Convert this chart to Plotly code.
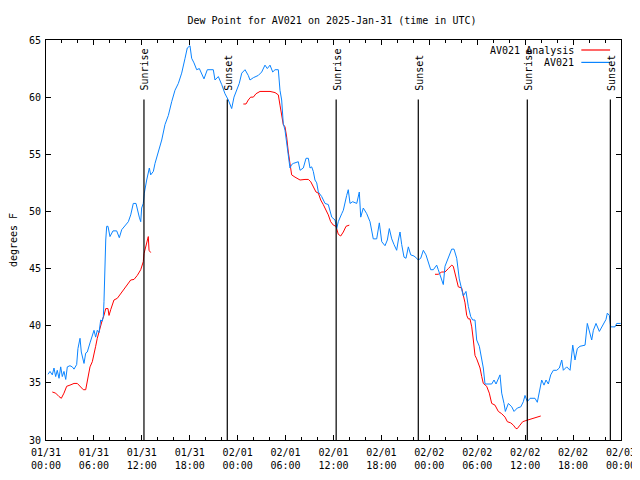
import pandas as pd
import plotly.graph_objects as go

BASE = pd.Timestamp("2025-01-31 00:00")

# AV021 observations: hours since 01/31 00:00 UTC, dew point (F)
obs_hours = [0.25, 0.5, 0.79, 1.0, 1.21, 1.41, 1.63, 1.84, 2.04, 2.25, 2.47, 2.67, 3.0, 3.29, 3.51, 3.84,
             4.0, 4.26, 4.42, 4.76, 4.97, 5.17, 5.51, 5.8, 6.01, 6.22, 6.42, 6.64, 6.85, 7.05, 7.18, 7.26,
             7.35, 7.48, 7.6, 7.76, 8.01, 8.39, 8.85, 9.18, 9.48, 9.89, 10.31, 10.61, 10.93, 11.27, 11.43,
             11.68, 11.86, 11.98, 12.18, 12.31, 12.61, 12.94, 13.11, 13.44, 13.65, 14.06, 14.49, 14.9,
             15.32, 15.74, 16.15, 16.57, 16.99, 17.41, 17.69, 18.03, 18.24, 18.53, 18.87, 19.2, 19.5,
             19.78, 20.2, 20.95, 21.16, 21.58, 22.0, 22.41, 22.83, 23.25, 23.54, 23.88, 24.2, 24.51,
             24.92, 25.33, 25.54, 25.96, 26.58, 27.01, 27.42, 27.71, 28.05, 28.39, 28.68, 29.09, 29.3,
             29.51, 29.71, 29.93, 30.14, 30.34, 30.55, 30.76, 30.97, 31.59, 31.81, 32.22, 32.56, 32.85,
             33.06, 33.27, 33.47, 33.68, 33.9, 34.1, 34.52, 34.94, 35.35, 35.78, 36.19, 36.4, 36.6,
             37.03, 37.23, 37.65, 37.85, 38.07, 38.4, 38.91, 39.23, 39.41, 39.73, 40.16, 40.57, 40.98,
             41.41, 41.74, 42.04, 42.45, 42.74, 42.99, 43.29, 43.58, 43.91, 44.12, 44.33, 44.54, 44.83,
             45.08, 45.37, 45.67, 46.08, 46.42, 46.62, 46.92, 47.25, 47.58, 47.87, 48.17, 48.5, 48.92,
             49.12, 49.34, 49.75, 49.96, 50.38, 50.8, 51.09, 51.43, 51.75, 52.05, 52.25, 52.59, 52.88,
             53.18, 53.43, 53.72, 53.93, 54.26, 54.56, 54.76, 54.97, 55.81, 56.1, 56.35, 56.85, 57.06,
             57.35, 57.52, 57.9, 58.32, 58.61, 59.02, 59.45, 59.77, 59.98, 60.27, 60.61, 61.23, 61.52,
             61.77, 62.07, 62.36, 62.61, 62.9, 63.2, 63.53, 63.95, 64.28, 64.58, 64.78, 65.2, 65.62,
             65.96, 66.24, 66.53, 66.87, 67.5, 67.78, 68.03, 68.33, 68.54, 68.87, 69.29, 69.59, 69.87,
             70.12, 70.29, 70.54, 70.71, 71.25, 71.46, 71.96]
obs_values = [35.75, 36.0, 35.7, 36.3, 35.55, 36.1, 35.4, 36.4, 35.55, 36.0, 35.3, 36.4, 36.5, 36.4, 36.2, 36.6,
              38.0, 38.9, 37.7, 36.7, 37.6, 37.7, 38.5, 39.2, 39.6, 39.0, 39.6, 39.4, 40.5, 40.4, 40.8, 42.1,
              45.5, 47.5, 48.7, 48.7, 47.8, 48.3, 48.3, 47.7, 48.4, 48.8, 49.1, 49.7, 50.7, 50.7, 50.1,
              49.5, 49.1, 50.3, 50.7, 51.6, 52.75, 53.8, 53.2, 53.5, 54.2, 55.1, 56.25, 57.6,
              58.4, 59.6, 60.6, 61.2, 62.1, 63.4, 64.3, 64.5, 63.4, 63.0, 62.4, 62.5, 62.1,
              61.6, 62.4, 62.4, 61.5, 61.8, 61.1, 60.3, 59.75, 59.0, 60.0, 60.6, 61.2, 62.1,
              62.4, 61.9, 61.5, 61.7, 61.9, 62.2, 62.8, 62.5, 62.8, 62.2, 62.4, 62.4, 60.6,
              59.75, 57.7, 57.1, 56.0, 54.9, 53.8, 54.1, 54.2, 54.35, 53.6, 53.8, 54.65, 54.65,
              53.8, 53.9, 53.5, 52.75, 52.5, 51.7, 51.3, 50.7, 50.6, 49.5, 49.25, 48.5, 49.1,
              49.8, 50.1, 51.4, 51.9, 50.7, 50.85, 50.7, 51.7, 49.5, 50.3, 49.8, 49.1, 47.6,
              47.6, 49.0, 47.35, 47.0, 47.5, 48.5, 47.6, 47.1, 46.6, 47.5, 48.2, 47.1, 46.0,
              45.9, 46.9, 46.2, 46.1, 45.9, 45.75, 45.9, 46.6, 46.2, 45.6, 44.9, 44.9, 45.3,
              44.9, 44.4, 43.6, 45.2, 45.9, 46.7, 46.7, 45.9, 44.1, 43.3, 42.6, 43.0, 41.7,
              40.8, 40.5, 40.5, 38.75, 38.2, 37.0, 36.3, 34.9, 34.9, 35.25, 34.9, 35.7, 34.1,
              33.2, 32.5, 33.2, 32.9, 32.5, 32.8, 32.9, 33.35, 33.9, 33.35, 33.65, 33.65, 33.3,
              34.1, 35.25, 34.8, 35.25, 34.9, 35.7, 36.1, 36.1, 36.3, 37.0, 36.1, 36.4, 36.1,
              38.3, 37.0, 38.0, 38.2, 38.3, 40.2, 39.5, 38.75, 39.6, 40.2, 39.5, 39.9, 40.2,
              40.55, 41.1, 40.9, 39.9, 39.9, 40.2, 40.2]

# AV021 Analysis (None = gap)
ana_hours = [0.79, 1.21, 1.63, 1.92, 2.25, 2.59, 3.0, 3.51, 3.92, 4.26, 4.67, 4.97, 5.26, 5.51, 5.8, 6.01,
             6.22, 6.42, 6.64, 6.85, 7.05, 7.26, 7.48, 7.76, 7.89, 8.1, 8.51, 8.93, 9.35, 9.77, 10.18,
             10.61, 11.02, 11.43, 11.86, 12.18, 12.27, 12.48, 12.69, 12.81, 12.9, 13.11, 13.2,
             24.71, 25.04, 25.33, 25.63, 25.96, 26.3, 26.8, 28.05, 28.68, 29.09, 29.3, 29.51, 29.71,
             29.93, 30.14, 30.34, 30.55, 30.76, 31.18, 31.81, 32.43, 32.85, 33.15, 33.47, 33.81, 34.1,
             34.4, 34.72, 35.06, 35.35, 35.65, 35.98, 36.31, 36.6, 36.9, 37.23, 37.57, 37.98, 38.1,
             48.71, 49.12, 49.55, 49.96, 50.38, 50.8, 51.0, 51.21, 51.43, 51.63, 52.05, 52.25, 52.47,
             52.68, 52.88, 53.09, 53.31, 53.51, 53.72, 53.93, 54.13, 54.35, 54.56, 54.76, 55.18, 55.51,
             55.81, 56.22, 56.64, 57.06, 57.48, 57.77, 58.19, 58.52, 58.85, 59.02, 59.35, 59.69, 60.1,
             60.52, 61.02, 61.45, 61.95]
ana_values = [34.2, 34.1, 33.8, 33.65, 34.1, 34.7, 34.8, 34.95, 34.95, 34.7, 34.4, 34.4, 35.55, 36.4, 36.85, 37.4,
              38.2, 38.9, 39.5, 39.9, 40.5, 40.9, 41.5, 41.5, 40.9, 41.4, 42.25, 42.4, 42.8, 43.1, 43.6,
              44.0, 44.05, 44.4, 44.9, 45.6, 46.3, 46.9, 47.6, 47.8, 46.6, 46.4, None,
              59.4, 59.4, 59.75, 60.0, 60.0, 60.3, 60.5, 60.5, 60.4, 60.2, 59.3, 58.3, 57.6,
              57.4, 56.5, 55.2, 54.1, 53.2, 53.0, 52.75, 52.8, 52.8, 52.6, 52.2, 51.7, 51.6,
              51.0, 50.6, 50.1, 49.7, 49.1, 48.8, 48.7, 48.0, 47.85, 48.2, 48.7, 48.8, None,
              44.5, 44.5, 44.7, 44.7, 45.0, 45.3, 45.2, 44.6, 43.85, 43.4, 43.3, 42.7, 42.0,
              40.9, 40.6, 40.6, 39.9, 38.75, 37.4, 37.1, 36.7, 36.3, 35.55, 34.95, 34.7, 34.1,
              33.2, 33.05, 32.5, 32.3, 32.0, 31.6, 31.5, 31.3, 31.0, 31.0, 31.3, 31.6, 31.7,
              31.8, 31.9, 32.05, 32.1]

event_times = ["2025-01-31 12:16", "2025-01-31 22:42", "2025-02-01 12:20",
               "2025-02-01 22:37", "2025-02-02 12:16", "2025-02-02 22:40"]
event_labels = ["Sunrise", "Sunset", "Sunrise", "Sunset", "Sunrise", "Sunset"]

tick_times = ["2025-01-31 00:00", "2025-01-31 06:00", "2025-01-31 12:00", "2025-01-31 18:00",
              "2025-02-01 00:00", "2025-02-01 06:00", "2025-02-01 12:00", "2025-02-01 18:00",
              "2025-02-02 00:00", "2025-02-02 06:00", "2025-02-02 12:00", "2025-02-02 18:00",
              "2025-02-03 00:00"]
tick_labels = ["01/31<br>00:00", "01/31<br>06:00", "01/31<br>12:00", "01/31<br>18:00",
               "02/01<br>00:00", "02/01<br>06:00", "02/01<br>12:00", "02/01<br>18:00",
               "02/02<br>00:00", "02/02<br>06:00", "02/02<br>12:00", "02/02<br>18:00",
               "02/03<br>00:00"]

RED = "#ff0000"
BLUE = "#0a84ff"
FONT = "DejaVu Sans Mono"
FS = 10

obs_x = [BASE + pd.Timedelta(hours=h) for h in obs_hours]
ana_x = [BASE + pd.Timedelta(hours=h) for h in ana_hours]

fig = go.Figure()
fig.add_trace(go.Scatter(x=ana_x, y=ana_values, mode="lines", name="AV021 Analysis",
                         line=dict(color=RED, width=1), connectgaps=False, showlegend=False))
fig.add_trace(go.Scatter(x=obs_x, y=obs_values, mode="lines", name="AV021",
                         line=dict(color=BLUE, width=1), showlegend=False))

for t, lab in zip(event_times, event_labels):
    fig.add_shape(type="line", xref="x", yref="y", x0=t, x1=t, y0=30, y1=59.8,
                  line=dict(color="black", width=1.2))
    fig.add_annotation(x=t, y=60.4, xref="x", yref="y", text=lab, textangle=-90,
                       showarrow=False, xanchor="center", yanchor="bottom", xshift=1,
                       font=dict(family=FONT, size=FS, color="black"))

# manual legend (text left of sample line, as in reference)
legend_names = ["AV021 Analysis", "AV021"]
legend_colors = [RED, BLUE]
for i, (nm, col) in enumerate(zip(legend_names, legend_colors)):
    yp = 0.975 - i * 0.031
    fig.add_annotation(x=0.921, y=yp, xref="paper", yref="paper", text=nm, showarrow=False,
                       xanchor="right", yanchor="middle", font=dict(family=FONT, size=FS, color="black"))
    fig.add_shape(type="line", xref="paper", yref="paper", x0=0.931, x1=0.981, y0=yp, y1=yp,
                  line=dict(color=col, width=1.2))

# page body has an 8px default margin: size the figure so the plot box lands where the reference has it
fig.update_layout(
    width=632, height=472,
    margin=dict(l=38, r=19, t=32, b=40),
    paper_bgcolor="white", plot_bgcolor="white",
    font=dict(family=FONT, size=FS, color="black"),
    title=dict(text="Dew Point for AV021 on 2025-Jan-31 (time in UTC)", x=(332 - 8) / 632,
               xanchor="center", y=1 - 12 / 472, yanchor="middle", font=dict(family=FONT, size=FS),
               automargin=False),
    showlegend=False,
)
fig.update_xaxes(
    range=["2025-01-31 00:00", "2025-02-03 00:00"], tickmode="array", tickvals=tick_times,
    ticktext=tick_labels, ticks="inside", ticklen=5, tickwidth=1, tickcolor="black",
    showline=True, linecolor="black", linewidth=1, mirror="allticks", showgrid=False,
    zeroline=False, tickfont=dict(family=FONT, size=FS), automargin=False, ticklabelstandoff=3,
    minor=dict(ticks="inside", ticklen=3, tickcolor="black", dtick=2 * 3600 * 1000,
               tick0="2025-01-31 00:00", showgrid=False),
)
fig.update_yaxes(
    range=[30, 65], dtick=5, tick0=30, ticks="inside", ticklen=5, tickwidth=1, tickcolor="black",
    showline=True, linecolor="black", linewidth=1, mirror="allticks", showgrid=False,
    zeroline=False, tickfont=dict(family=FONT, size=FS), automargin=False, ticklabelstandoff=2,
    title=dict(text="degrees F", font=dict(family=FONT, size=FS), standoff=14),
)

fig.write_html("out.html")
